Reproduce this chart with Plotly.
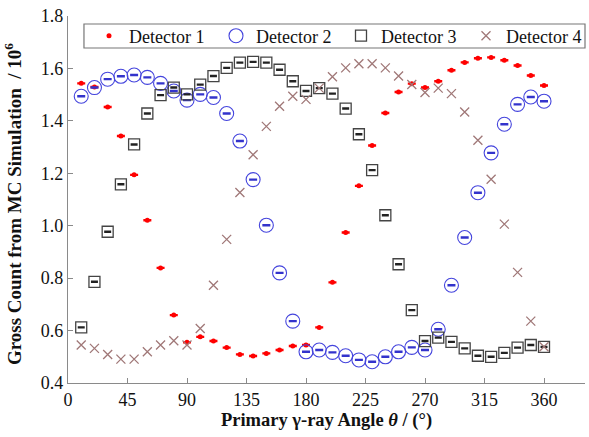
import plotly.graph_objects as go

# Primary gamma-ray angle (degrees)
angles = list(range(10, 361, 10))

# Gross counts from MC simulation (x 10^6) for each detector
detector_1 = [1.543, 1.529, 1.453, 1.342, 1.194, 1.021, 0.839, 0.659, 0.555, 0.576,
              0.560, 0.535, 0.509, 0.503, 0.513, 0.526, 0.541, 0.545, 0.612, 0.784,
              0.974, 1.152, 1.306, 1.430, 1.510, 1.542, 1.527, 1.551, 1.593, 1.623,
              1.639, 1.642, 1.631, 1.611, 1.573, 1.535]
detector_2 = [1.494, 1.527, 1.559, 1.570, 1.575, 1.566, 1.543, 1.514, 1.479, 1.501,
              1.489, 1.428, 1.323, 1.176, 1.002, 0.820, 0.636, 0.519, 0.526, 0.517,
              0.504, 0.488, 0.481, 0.500, 0.519, 0.536, 0.526, 0.605, 0.773, 0.955,
              1.126, 1.278, 1.387, 1.463, 1.491, 1.475]
detector_3 = [0.612, 0.786, 0.977, 1.158, 1.310, 1.428, 1.498, 1.527, 1.501, 1.538,
              1.571, 1.602, 1.622, 1.625, 1.622, 1.595, 1.551, 1.514, 1.525, 1.504,
              1.447, 1.349, 1.212, 1.040, 0.853, 0.678, 0.560, 0.573, 0.557, 0.532,
              0.504, 0.500, 0.515, 0.535, 0.545, 0.538]
detector_4 = [0.545, 0.532, 0.509, 0.491, 0.491, 0.519, 0.545, 0.561, 0.545, 0.608,
              0.773, 0.948, 1.127, 1.271, 1.379, 1.456, 1.494, 1.482, 1.525, 1.568,
              1.602, 1.618, 1.618, 1.602, 1.571, 1.539, 1.508, 1.525, 1.504, 1.434,
              1.326, 1.177, 1.006, 0.822, 0.636, 0.538]

# Statistical uncertainty (x 10^6), tiny compared with the counts
stat_err = 0.0015

x_ticks = [0, 45, 90, 135, 180, 225, 270, 315, 360]
y_ticks = [0.4, 0.6, 0.8, 1.0, 1.2, 1.4, 1.6, 1.8]

FONT = "'Liberation Serif', 'Times New Roman', serif"

W, H = 589, 437
ML, MR, MT, MB = 68, 3, 16, 54
PW, PH = W - ML - MR, H - MT - MB


def px_x(px):
    return (px - ML) / PW


def px_y(py):
    return (H - MB - py) / PH


fig = go.Figure()


def err(color, half_width):
    return dict(type="constant", value=stat_err, color=color,
                thickness=1.6, width=half_width)


fig.add_trace(go.Scatter(
    x=angles, y=detector_1, mode="markers", name="Detector 1", legend="legend",
    marker=dict(symbol="circle", size=5, color="#ff0000"),
    error_y=err("#ff0000", 4),
))
fig.add_trace(go.Scatter(
    x=angles, y=detector_2, mode="markers", name="Detector 2", legend="legend2",
    marker=dict(symbol="circle-open", size=14, color="#4444dd",
                line=dict(width=1.1, color="#4444dd")),
    error_y=err("#3333cc", 4),
))
fig.add_trace(go.Scatter(
    x=angles, y=detector_3, mode="markers", name="Detector 3", legend="legend3",
    marker=dict(symbol="square-open", size=11, color="#444444",
                line=dict(width=1.3, color="#444444")),
    error_y=err("#222222", 3.5),
))
fig.add_trace(go.Scatter(
    x=angles, y=detector_4, mode="markers", name="Detector 4", legend="legend4",
    marker=dict(symbol="x-thin-open", size=9, color="#a07878",
                line=dict(width=1.3, color="#a07878")),
))

axis_common = dict(
    showline=True, linecolor="#8a8a8a", linewidth=1.2,
    ticks="inside", ticklen=5, tickcolor="#8a8a8a", tickwidth=1.2,
    showgrid=False, zeroline=False,
    tickfont=dict(family=FONT, size=18, color="#111111"),
)

# legend frame
fig.add_shape(type="rect", xref="paper", yref="paper",
              x0=px_x(84), x1=px_x(586), y0=px_y(48), y1=px_y(24),
              line=dict(color="#777777", width=1.2), fillcolor="white",
              layer="below")

fig.add_annotation(
    xref="paper", yref="paper", x=px_x(13), y=px_y(204),
    text="<b>Gross Count from MC Simulation  / 10<sup>6</sup></b>",
    textangle=-90, showarrow=False, xanchor="center", yanchor="middle",
    font=dict(family=FONT, size=19, color="#111111"),
)


def legend_at(marker_px):
    return dict(
        x=px_x(marker_px - 18), y=px_y(36), xanchor="left", yanchor="middle",
        bgcolor="rgba(0,0,0,0)", borderwidth=0, itemwidth=30,
        font=dict(family=FONT, size=18, color="#111111"),
    )


fig.update_layout(
    width=W, height=H,
    margin=dict(l=ML, r=MR, t=MT, b=MB),
    paper_bgcolor="white", plot_bgcolor="white",
    font=dict(family=FONT, size=18, color="#111111"),
    xaxis=dict(
        range=[0, 391], tickvals=x_ticks, ticktext=[str(v) for v in x_ticks],
        title=dict(text="<b>Primary γ-ray Angle <i>θ</i> / (°)</b>",
                   font=dict(family=FONT, size=18.5), standoff=2),
        **axis_common,
    ),
    yaxis=dict(
        range=[0.4, 1.8], tickvals=y_ticks, ticktext=[f"{v:.1f}" for v in y_ticks],
        **axis_common,
    ),
    legend=legend_at(107),
    legend2=legend_at(234),
    legend3=legend_at(359),
    legend4=legend_at(484),
    showlegend=True,
)

fig.write_html("out.html")
